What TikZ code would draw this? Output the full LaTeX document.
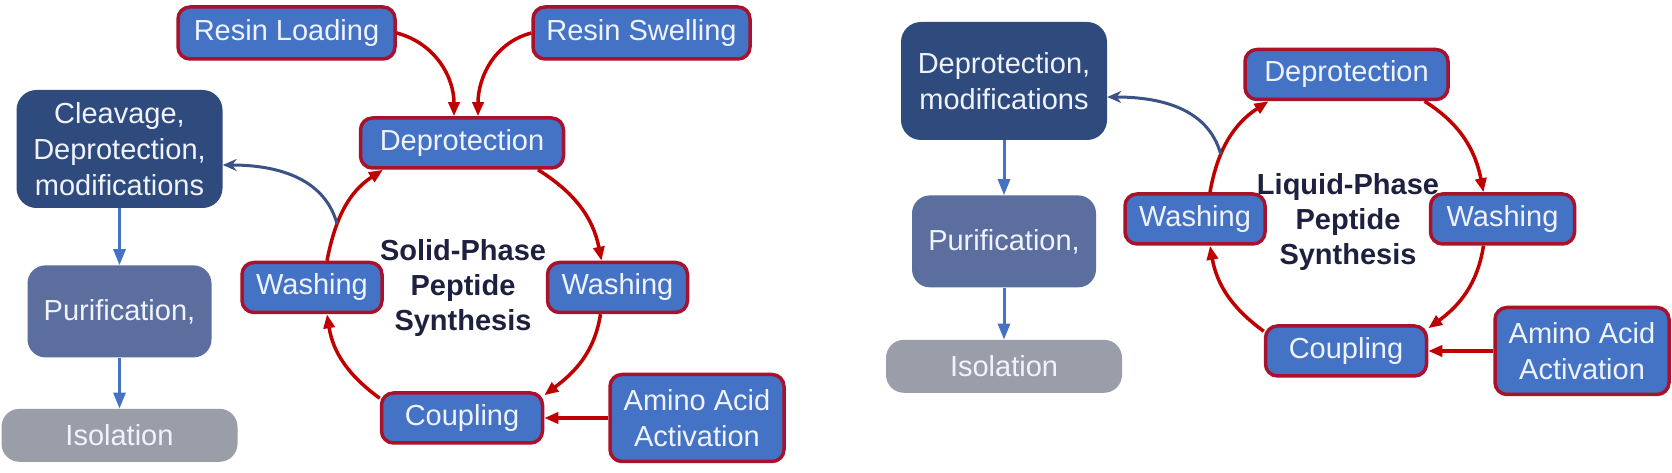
\documentclass[tikz,border=0pt]{standalone}
\usepackage{fontspec}
\setmainfont{Liberation Sans}
\usetikzlibrary{positioning,arrows.meta}

\definecolor{boxblue}{HTML}{4472C4}
\definecolor{boxred}{HTML}{A8122C}
\definecolor{arrowred}{HTML}{C00000}
\definecolor{darkfill}{HTML}{2F4A7D}
\definecolor{purfill}{HTML}{5B6E9E}
\definecolor{isofill}{HTML}{9A9EA8}
\definecolor{titlenavy}{HTML}{1E2040}
\definecolor{linkblue}{HTML}{3A5285}
\definecolor{boxtext}{HTML}{EEF3FF}

\begin{document}
\begin{tikzpicture}[x=1pt,y=1pt,
    every node/.style={font=\fontsize{29}{36}\selectfont},
    stepbox/.style={draw=boxred, line width=3.5pt, fill=boxblue, text=boxtext,
        rounded corners=12pt, inner sep=0pt, minimum height=50pt, align=center},
    finalbox/.style={fill=darkfill, text=boxtext, rounded corners=20pt, inner sep=0pt,
        minimum width=206pt, minimum height=118pt, align=center},
    purifybox/.style={fill=purfill, text=boxtext, rounded corners=18pt, inner sep=0pt,
        minimum width=184pt, minimum height=92pt},
    isolatebox/.style={fill=isofill, text=boxtext, rounded corners=18pt, inner sep=0pt,
        minimum width=236pt, minimum height=53pt},
    cycletitle/.style={text=titlenavy, font=\fontsize{29}{35}\selectfont\bfseries, align=center},
    redflow/.style={draw=arrowred, line width=3.5pt, -{Triangle[length=14pt,width=11pt]}},
    downflow/.style={draw=boxblue, line width=3pt, -{Triangle[length=16pt,width=12pt]}},
    backlink/.style={draw=linkblue, line width=3pt, -{Stealth[length=14pt,width=12pt]}}]

    \fill[white] (0,0) rectangle (1672,473);

    % solid phase
    \node[finalbox] (cl) at (119.5,324) {Cleavage,\\Deprotection,\\modifications};
    \node[purifybox, below=57pt of cl] (pu) {Purification,};
    \node[isolatebox, below=51pt of pu] (iso) {Isolation};

    \node[stepbox, minimum width=217pt, minimum height=52pt] (rl) at (286.5,440) {Resin Loading};
    \node[stepbox, minimum width=217pt, minimum height=52pt] (rs) at (641.5,440) {Resin Swelling};
    \node[stepbox, minimum width=203pt] (dep1) at (462,330) {Deprotection};
    \node[stepbox, minimum width=140pt] (wl1) at (312,185.5) {Washing};
    \node[stepbox, minimum width=140pt] (wr1) at (617.5,185.5) {Washing};
    \node[stepbox, minimum width=161pt] (cp1) at (462,55) {Coupling};
    \node[stepbox, minimum width=174pt, minimum height=87pt, right=64pt of cp1] (am1) {Amino Acid\\Activation};
    \node[cycletitle] (sp) at (463,185) {Solid-Phase\\Peptide\\Synthesis};

    \draw[downflow] (cl) -- (pu);
    \draw[downflow] (pu) -- (iso);
    \draw[redflow] (rl.east) to[out=-15,in=90] ([xshift=-8pt]dep1.north);
    \draw[redflow] (rs.west) to[out=195,in=90] ([xshift=16pt]dep1.north);
    \draw[redflow] ([xshift=76pt]dep1.south) to[out=-32,in=101] ([xshift=-16pt]wr1.north);
    \draw[redflow] ([xshift=-17pt]wr1.south) to[out=-99,in=37] ([yshift=-4pt]cp1.north east);
    \draw[redflow] ([yshift=-7pt]cp1.north west) to[out=144,in=-81] ([xshift=15pt]wl1.south);
    \draw[redflow] ([xshift=15pt]wl1.north) to[out=79,in=213] node[pos=0.33,coordinate] (tap1) {} ([xshift=-79pt]dep1.south);
    \draw[redflow] (am1) -- (cp1);
    \draw[backlink] (tap1) to[out=105,in=0] ([yshift=-16pt]cl.east);

    % liquid phase
    \node[finalbox] (dk2) at (1004,392) {Deprotection,\\modifications};
    \node[purifybox, below=55pt of dk2] (pu2) {Purification,};
    \node[isolatebox, below=52pt of pu2] (iso2) {Isolation};

    \node[stepbox, minimum width=203pt] (dep2) at (1346.5,398.5) {Deprotection};
    \node[stepbox, minimum width=140pt] (wl2) at (1195,254) {Washing};
    \node[stepbox, minimum width=144pt] (wr2) at (1502.5,254) {Washing};
    \node[stepbox, minimum width=161pt] (cp2) at (1346,122) {Coupling};
    \node[stepbox, minimum width=174pt, minimum height=87pt, right=65pt of cp2] (am2) {Amino Acid\\Activation};
    \node[cycletitle] (lp) at (1348,251) {Liquid-Phase\\Peptide\\Synthesis};

    \draw[downflow] (dk2) -- (pu2);
    \draw[downflow] (pu2) -- (iso2);
    \draw[redflow] ([xshift=78pt]dep2.south) to[out=-32,in=101] ([xshift=-19pt]wr2.north);
    \draw[redflow] ([xshift=-19pt]wr2.south) to[out=-99,in=36] ([yshift=-4pt]cp2.north east);
    \draw[redflow] ([yshift=-7pt]cp2.north west) to[out=144,in=-80] ([xshift=15pt]wl2.south);
    \draw[redflow] ([xshift=15pt]wl2.north) to[out=80,in=213] node[pos=0.34,coordinate] (tap2) {} ([xshift=-78pt]dep2.south);
    \draw[redflow] (am2) -- (cp2);
    \draw[backlink] (tap2) to[out=105,in=0] ([yshift=-16pt]dk2.east);
\end{tikzpicture}
\end{document}
